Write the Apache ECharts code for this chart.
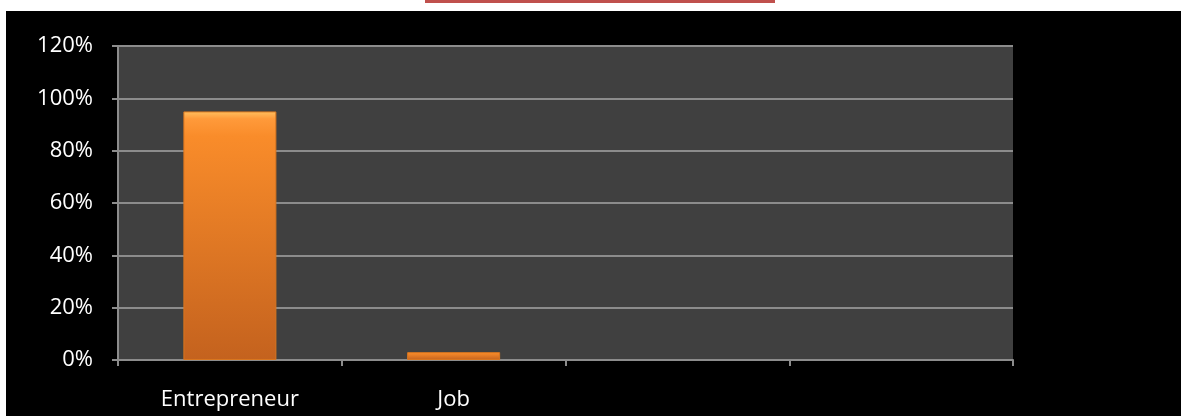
<!DOCTYPE html>
<html>
<head>
<meta charset="utf-8">
<script src="https://cdn.jsdelivr.net/npm/echarts@6/dist/echarts.min.js"></script>
<style>
html,body{margin:0;padding:0;background:#fff;}
#c{width:1181px;height:416px;}
</style>
</head>
<body>
<div id="c"></div>
<script>
const categories = ['Entrepreneur', 'Job', '', ''];
const values = [95, 3, null, null];
const yTicks = [0, 20, 40, 60, 80, 100, 120];

const chart = echarts.init(document.getElementById('c'));
chart.setOption({
  backgroundColor: '#ffffff',
  animation: false,
  graphic: [
    { type: 'rect', z: -10, shape: { x: 6, y: 11, width: 1175, height: 405 }, style: { fill: '#000000' } },
    { type: 'rect', z: -5, shape: { x: 425, y: 0, width: 350, height: 3 }, style: { fill: '#C0504D' } }
  ],
  grid: { left: 118, right: 168, top: 46, bottom: 56, show: true, backgroundColor: '#404040', borderWidth: 0 },
  xAxis: {
    type: 'category',
    data: categories,
    axisLine: { show: true, lineStyle: { color: '#8c8c8c', width: 2 } },
    axisTick: { show: true, alignWithLabel: false, length: 6, lineStyle: { color: '#8c8c8c', width: 2 } },
    axisLabel: { color: '#ffffff', fontFamily: 'Open Sans', fontSize: 22, margin: 29 }
  },
  yAxis: {
    type: 'value',
    min: yTicks[0],
    max: yTicks[yTicks.length - 1],
    interval: 20,
    axisLine: { show: true, lineStyle: { color: '#8c8c8c', width: 2 } },
    axisTick: { show: true, length: 6, lineStyle: { color: '#8c8c8c', width: 2 } },
    splitLine: { show: true, lineStyle: { color: '#8c8c8c', width: 2 } },
    axisLabel: { color: '#ffffff', fontFamily: 'Open Sans', fontSize: 22, margin: 25, padding: [4, 0, 0, 0], formatter: '{value}%' }
  },
  series: [{
    type: 'bar',
    data: values,
    barWidth: 93,
    itemStyle: {
      color: new echarts.graphic.LinearGradient(0, 0, 0, 1, [
        { offset: 0, color: '#FFC060' },
        { offset: 0.03, color: '#FF9A3A' },
        { offset: 0.1, color: '#F98C2A' },
        { offset: 1, color: '#C4621E' }
      ]),
      borderColor: '#D9761F',
      borderWidth: 1
    }
  }]
});
</script>
</body>
</html>
